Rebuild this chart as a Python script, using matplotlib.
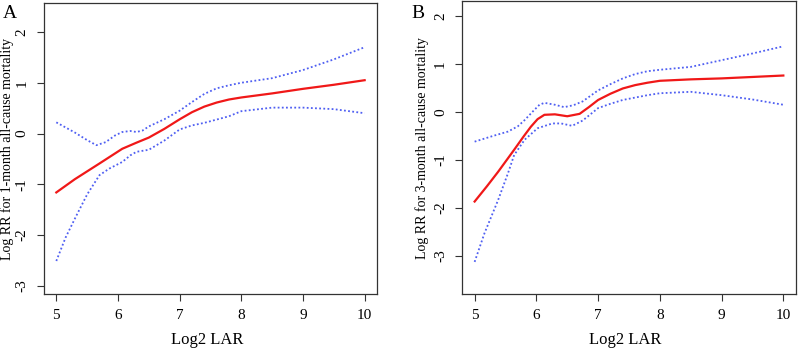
import numpy as np
import matplotlib
matplotlib.use("Agg")
import matplotlib.pyplot as plt

plt.rcParams['font.family'] = ['Liberation Serif', 'DejaVu Serif']

# panel A : 1-month all-cause mortality
a_x = [5.0, 5.3, 5.7, 6.07, 6.3, 6.5, 6.75, 7.0, 7.2, 7.4, 7.6, 7.8, 8.0, 8.5, 9.0, 9.5, 10.0]
a_fit = [-1.16, -0.90, -0.59, -0.30, -0.18, -0.08, 0.09, 0.28, 0.42, 0.53, 0.61, 0.67, 0.71, 0.79, 0.88, 0.96, 1.05]
a_up_x = [5.0, 5.3, 5.5, 5.65, 5.8, 5.95, 6.07, 6.2, 6.3, 6.4, 6.5, 6.75, 7.0, 7.2, 7.4, 7.6, 7.8, 8.0, 8.5, 9.0, 9.5, 10.0]
a_up = [0.22, 0.02, -0.13, -0.23, -0.17, -0.04, 0.03, 0.05, 0.03, 0.06, 0.14, 0.28, 0.45, 0.62, 0.78, 0.89, 0.95, 1.0, 1.09, 1.25, 1.46, 1.70]
a_lo_x = [5.0, 5.15, 5.32, 5.5, 5.7, 5.86, 6.07, 6.2, 6.3, 6.5, 6.75, 7.0, 7.2, 7.4, 7.8, 8.0, 8.5, 9.0, 9.5, 10.0]
a_lo = [-2.51, -2.05, -1.63, -1.20, -0.82, -0.69, -0.56, -0.43, -0.36, -0.32, -0.14, 0.08, 0.16, 0.21, 0.34, 0.44, 0.51, 0.51, 0.48, 0.40]

# panel B : 3-month all-cause mortality
b_x = [5.0, 5.2, 5.38, 5.64, 5.8, 5.91, 6.02, 6.13, 6.3, 6.5, 6.7, 6.85, 7.0, 7.2, 7.4, 7.6, 7.8, 8.0, 8.5, 9.0, 9.5, 10.0]
b_fit = [-1.87, -1.55, -1.25, -0.79, -0.50, -0.31, -0.15, -0.06, -0.05, -0.09, -0.04, 0.10, 0.25, 0.38, 0.49, 0.56, 0.61, 0.65, 0.68, 0.70, 0.73, 0.76]
b_up_x = [5.0, 5.3, 5.54, 5.7, 5.81, 5.95, 6.05, 6.13, 6.3, 6.45, 6.6, 6.75, 7.0, 7.2, 7.4, 7.6, 7.8, 8.0, 8.5, 9.0, 9.5, 10.0]
b_up = [-0.62, -0.50, -0.41, -0.30, -0.17, 0.02, 0.15, 0.19, 0.15, 0.10, 0.14, 0.22, 0.45, 0.58, 0.70, 0.79, 0.85, 0.88, 0.94, 1.08, 1.22, 1.37]
b_lo_x = [5.0, 5.16, 5.38, 5.54, 5.64, 5.81, 6.02, 6.26, 6.4, 6.58, 6.75, 7.0, 7.2, 7.4, 7.8, 8.0, 8.5, 9.0, 9.5, 10.0]
b_lo = [-3.13, -2.53, -1.84, -1.28, -0.90, -0.58, -0.34, -0.24, -0.24, -0.29, -0.18, 0.08, 0.17, 0.25, 0.35, 0.39, 0.42, 0.35, 0.26, 0.15]

xticks = [5, 6, 7, 8, 9, 10]
yticks = [-3, -2, -1, 0, 1, 2]

fig = plt.figure(figsize=(7.98, 3.51), dpi=100)
axA = fig.add_axes([0.0551, 0.1624, 0.4173, 0.829])
axB = fig.add_axes([0.5793, 0.1624, 0.4178, 0.834])

panels = [
    (axA, a_x, a_fit, a_up_x, a_up, a_lo_x, a_lo, (-3.16, 2.57),
     "Log RR for 1-month all-cause mortality", -0.09, "A", 0.003),
    (axB, b_x, b_fit, b_up_x, b_up, b_lo_x, b_lo, (-3.8, 2.31),
     "Log RR for 3-month all-cause mortality", -0.10, "B", 0.516),
]

for ax, x, fit, ux, up, lx, lo, ylim, ylab, ylx, letter, lx_fig in panels:
    ax.plot(ux, up, color='#4f5ff2', lw=1.3, ls=(0, (1, 1.3)))
    ax.plot(lx, lo, color='#4f5ff2', lw=1.3, ls=(0, (1, 1.3)))
    ax.plot(x, fit, color='#f01818', lw=1.6)
    ax.set_xlim(4.8, 10.2)
    ax.set_ylim(*ylim)
    ax.set_xticks(xticks)
    ax.set_yticks(yticks)
    ax.set_xticklabels([str(t) for t in xticks], fontsize=11)
    ax.set_yticklabels([str(t) for t in yticks], fontsize=11, rotation=90, va='center')
    ax.tick_params(direction='out', length=5, width=0.8, color='#333333', pad=6)
    for s in ax.spines.values():
        s.set_color('#333333')
        s.set_linewidth(0.9)
    ax.set_xlabel("Log2 LAR", fontsize=12)
    ax.xaxis.set_label_coords(0.49, -0.13)
    ax.set_ylabel(ylab, fontsize=10)
    ax.yaxis.set_label_coords(ylx, 0.5)
    fig.text(lx_fig, 0.985, letter, fontsize=14, va='top', ha='left')

fig.savefig("out.png", dpi=100)
